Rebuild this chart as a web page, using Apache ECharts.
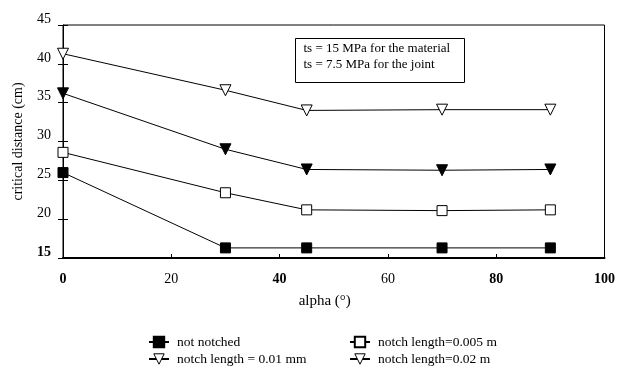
<!DOCTYPE html>
<html><head><meta charset="utf-8">
<script src="https://cdn.jsdelivr.net/npm/echarts@6/dist/echarts.min.js"></script>
<style>html,body{margin:0;padding:0;background:#fff}#c{width:618px;height:375px}</style>
</head><body><div id="c"></div>
<script>
var alpha = [0, 30, 45, 70, 90];
var notNotched = [26.0, 16.3, 16.3, 16.3, 16.3];
var notch0005 = [28.6, 23.4, 21.2, 21.1, 21.2];
var notch001 = [36.2, 29.0, 26.4, 26.3, 26.4];
var notch002 = [41.3, 36.6, 34.0, 34.1, 34.1];
var seriesNames = ['not notched', 'notch length=0.005 m', 'notch length = 0.01 mm', 'notch length=0.02 m'];
var xTicks = [0, 20, 40, 60, 80, 100];
var boldX = [0, 40, 80, 100];
var yTicks = [15, 20, 25, 30, 35, 40, 45];
var noteLines = ['ts = 15 MPa for the material', 'ts = 7.5 MPa for the joint'];

var FONT = '"Liberation Serif", "DejaVu Serif", serif';
var TRI = 'path://M0,0 L10,0 L5,10 Z';
function pairs(v){ return alpha.map(function(a,i){ return [a, v[i]]; }); }
function mk(name, data, symbol, filled, size){
  return {
    name: name, type: 'line', data: pairs(data), symbol: symbol, symbolSize: size,
    showAllSymbol: true,
    lineStyle: {color: '#000', width: 1},
    itemStyle: {color: filled ? '#000' : '#fff', borderColor: '#000', borderWidth: 1},
    z: 3
  };
}
var legendText = {fontFamily: FONT, fontSize: 13.5, color: '#000', padding: [0, 0, 0, 3]};
var openIcon = {color: '#fff', borderColor: '#000', borderWidth: 1};
var chart = echarts.init(document.getElementById('c'), null, {renderer: 'canvas'});
var opt = {
  animation: false,
  backgroundColor: '#fff',
  textStyle: {fontFamily: FONT, color: '#000'},
  grid: {left: 63, right: 13, top: 25, bottom: 117, show: true, borderColor: '#000', borderWidth: 1, backgroundColor: 'transparent'},
  xAxis: {
    type: 'value', min: 0, max: 100, interval: 20,
    name: 'alpha (°)', nameLocation: 'middle', nameGap: 36,
    nameTextStyle: {fontFamily: FONT, fontSize: 15, color: '#000', padding: [0, 18, 0, 0]},
    axisLine: {show: true, lineStyle: {color: '#000', width: 2}},
    axisTick: {show: true, inside: true, length: 4, lineStyle: {color: '#000'}},
    splitLine: {show: false},
    axisLabel: {
      margin: 14, fontFamily: FONT, fontSize: 14, color: '#000',
      formatter: function(v){ return boldX.indexOf(v) >= 0 ? '{b|' + v + '}' : '' + v; },
      rich: {b: {fontFamily: FONT, fontSize: 14, fontWeight: 'bold', color: '#000'}}
    }
  },
  yAxis: [{
    type: 'value', min: 15, max: 45, interval: 5,
    name: 'critical distance (cm)', nameLocation: 'middle', nameGap: 38, nameRotate: 90,
    nameTextStyle: {fontFamily: FONT, fontSize: 14, color: '#000'},
    axisLine: {show: true, lineStyle: {color: '#000', width: 1}},
    axisTick: {show: true, inside: false, length: 5, lineStyle: {color: '#000'}},
    splitLine: {show: false},
    axisLabel: {
      margin: 12, fontFamily: FONT, fontSize: 14, color: '#000', padding: [0, 0, 12, 0],
      formatter: function(v){ return v === yTicks[0] ? '{b|' + v + '}' : '' + v; },
      rich: {b: {fontFamily: FONT, fontSize: 14, fontWeight: 'bold', color: '#000'}}
    }
  }, {
    type: 'value', min: 15, max: 45, interval: 5, position: 'left',
    axisLine: {show: false},
    axisTick: {show: true, inside: true, length: 5, lineStyle: {color: '#000'}},
    axisLabel: {show: false}, splitLine: {show: false}
  }],
  legend: [{
    orient: 'vertical', left: 143, top: 330, itemGap: 3, itemWidth: 20, itemHeight: 13,
    textStyle: legendText,
    data: [
      {name: seriesNames[0]},
      {name: seriesNames[2], itemStyle: openIcon}
    ]
  }, {
    orient: 'vertical', left: 344, top: 330, itemGap: 3, itemWidth: 20, itemHeight: 13,
    textStyle: legendText,
    data: [{name: seriesNames[1]}, {name: seriesNames[3], itemStyle: openIcon}]
  }],
  graphic: [{
    type: 'group', left: 295, top: 38,
    children: [
      {type: 'rect', shape: {x: 0, y: 0, width: 169, height: 44}, style: {fill: '#fff', stroke: '#000', lineWidth: 1}},
      {type: 'text', left: 8, top: 4, style: {text: noteLines[0], font: '13px ' + FONT, fill: '#000'}},
      {type: 'text', left: 8, top: 20, style: {text: noteLines[1], font: '13px ' + FONT, fill: '#000'}}
    ]
  }],
  series: [
    mk(seriesNames[0], notNotched, 'rect', true, 10),
    mk(seriesNames[1], notch0005, 'rect', false, 10),
    mk(seriesNames[2], notch001, TRI, true, 11),
    mk(seriesNames[3], notch002, TRI, false, 11)
  ]
};
chart.setOption(opt);
</script></body></html>
